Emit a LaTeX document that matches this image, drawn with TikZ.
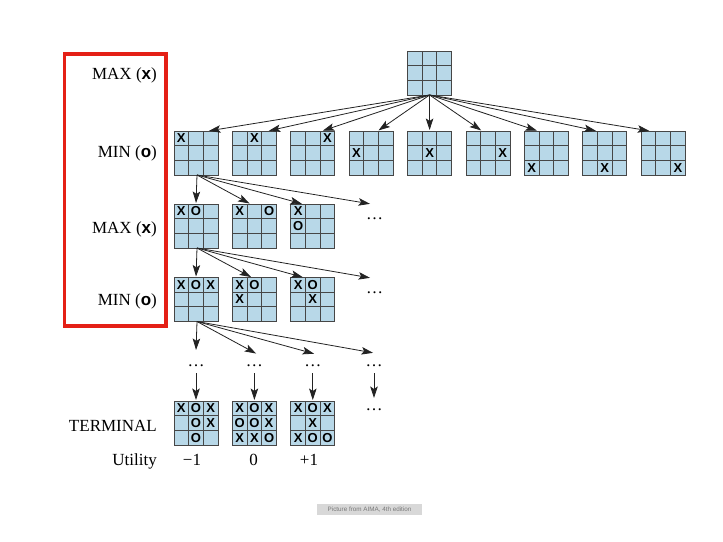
\documentclass[tikz,border=0pt]{standalone}
\usepackage{fontspec}
\setmainfont{Liberation Serif}
\setsansfont{Liberation Sans}
\usetikzlibrary{arrows.meta,calc}
\definecolor{cellblue}{RGB}{184,216,232}
\definecolor{gridgray}{RGB}{70,70,70}
\definecolor{boxred}{RGB}{228,32,22}
\definecolor{capbg}{RGB}{216,216,216}
\definecolor{captxt}{RGB}{120,120,120}
\definecolor{arrowgray}{RGB}{35,35,35}
\tikzset{
  tttbox/.style={rectangle, draw=gridgray, fill=cellblue, line width=1pt,
    minimum width=44pt, minimum height=44pt, inner sep=0pt, outer sep=0pt},
  tttgrid/.style={draw=gridgray, line width=1pt},
  tttmark/.style={font=\sffamily\bfseries\fontsize{13}{13}\selectfont, inner sep=0pt},
  lvl/.style={font=\fontsize{17}{20}\selectfont, inner sep=0pt, anchor=base east},
  utl/.style={font=\fontsize{17}{20}\selectfont, inner sep=0pt, anchor=base},
  dotsn/.style={font=\fontsize{17}{20}\selectfont, inner sep=0pt, anchor=base},
  arr/.style={draw=arrowgray, line width=0.8pt,
    -{Stealth[length=11.5pt,width=7.5pt,inset=2.5pt]}, shorten >=1pt},
  redbox/.style={draw=boxred, line width=3.8pt},
  capbox/.style={fill=capbg, text=captxt, font=\sffamily\fontsize{6.3}{6.3}\selectfont,
    minimum width=105pt, minimum height=11pt, inner sep=0pt}
}
\newcommand{\tttboard}[2]{%
  \node[tttbox] (#1) at #2 {};
  \foreach \kk in {1,2}{
    \draw[tttgrid] ($(#1.north west)!\kk/3!(#1.north east)$) -- ($(#1.south west)!\kk/3!(#1.south east)$);
    \draw[tttgrid] ($(#1.north west)!\kk/3!(#1.south west)$) -- ($(#1.north east)!\kk/3!(#1.south east)$);
  }
}
\newcommand{\tttmarks}[2]{%
  \foreach \cc/\rr/\mm in {#2}{
    \node[tttmark] at ($(#1.north west)+({(\cc-0.5)*44/3},{(\rr-0.5)*44/3})$) {\mm};
  }
}
\begin{document}
\begin{tikzpicture}[x=1pt,y=-1pt]
\useasboundingbox (0,0) rectangle (723,541);
\fill[white] (0,0) rectangle (723,541);

% red frame
\draw[redbox] (64.5,54) rectangle (166,326);

% level labels
\node[lvl] (lmax1) at (157,79) {MAX (\textsf{\textbf{x}})};
\node[lvl] (lmin1) at (157,157) {MIN (\textsf{\textbf{o}})};
\node[lvl] (lmax2) at (157,233) {MAX (\textsf{\textbf{x}})};
\node[lvl] (lmin2) at (157,305) {MIN (\textsf{\textbf{o}})};
\node[lvl] (lterm) at (157,431) {TERMINAL};
\node[lvl] (lutil) at (157,465) {Utility};

% top board
\tttboard{top}{(429.6,73)}

% MIN row
\tttboard{m1}{(196,153)}   \tttmarks{m1}{1/1/X}
\tttboard{m2}{(254.4,153)} \tttmarks{m2}{2/1/X}
\tttboard{m3}{(312.8,153)} \tttmarks{m3}{3/1/X}
\tttboard{m4}{(371.2,153)} \tttmarks{m4}{1/2/X}
\tttboard{m5}{(429.6,153)} \tttmarks{m5}{2/2/X}
\tttboard{m6}{(488,153)}   \tttmarks{m6}{3/2/X}
\tttboard{m7}{(546.4,153)} \tttmarks{m7}{1/3/X}
\tttboard{m8}{(604.8,153)} \tttmarks{m8}{2/3/X}
\tttboard{m9}{(663.2,153)} \tttmarks{m9}{3/3/X}

% MAX row 2
\tttboard{a1}{(196,226)}   \tttmarks{a1}{1/1/X,2/1/O}
\tttboard{a2}{(254.4,226)} \tttmarks{a2}{1/1/X,3/1/O}
\tttboard{a3}{(312.8,226)} \tttmarks{a3}{1/1/X,1/2/O}
\node[dotsn] (ad) at (374.5,219) {\dots};
\coordinate (adin) at (371,204);

% MIN row 2
\tttboard{b1}{(196,299.5)}   \tttmarks{b1}{1/1/X,2/1/O,3/1/X}
\tttboard{b2}{(254.4,299.5)} \tttmarks{b2}{1/1/X,2/1/O,1/2/X}
\tttboard{b3}{(312.8,299.5)} \tttmarks{b3}{1/1/X,2/1/O,2/2/X}
\node[dotsn] (bd) at (374.5,293.5) {\dots};
\coordinate (bdin) at (371,278);

% intermediate dots
\node[dotsn] (e1) at (196,366.5) {\dots};
\node[dotsn] (e2) at (254.4,366.5) {\dots};
\node[dotsn] (e3) at (312.8,366.5) {\dots};
\node[dotsn] (e4) at (374,366.5) {\dots};
\coordinate (e1in) at (196,351);
\coordinate (e2in) at (257,354);
\coordinate (e3in) at (315,354);
\coordinate (e4in) at (374,353);
\coordinate (e1out) at (196,373);
\coordinate (e2out) at (254.4,373);
\coordinate (e3out) at (312.8,373);
\coordinate (e4out) at (374,373);
\coordinate (e4end) at (374,399);

% terminal row
\tttboard{t1}{(196,423)}   \tttmarks{t1}{1/1/X,2/1/O,3/1/X,2/2/O,3/2/X,2/3/O}
\tttboard{t2}{(254.4,423)} \tttmarks{t2}{1/1/X,2/1/O,3/1/X,1/2/O,2/2/O,3/2/X,1/3/X,2/3/X,3/3/O}
\tttboard{t3}{(312.8,423)} \tttmarks{t3}{1/1/X,2/1/O,3/1/X,2/2/X,1/3/X,2/3/O,3/3/O}
\node[dotsn] (td) at (374,410.5) {\dots};

% utilities
\node[utl] (u1) at (192,465) {−1};
\node[utl] (u2) at (253.5,465) {0};
\node[utl] (u3) at (309,465) {+1};

% arrows: top -> MIN row
\draw[arr] (top.south) -- ([xshift=12pt]m1.north);
\draw[arr] (top.south) -- ([xshift=13.5pt]m2.north);
\draw[arr] (top.south) -- ([xshift=9pt]m3.north);
\draw[arr] (top.south) -- ([xshift=6.5pt]m4.north);
\draw[arr] (top.south) -- (m5.north);
\draw[arr] (top.south) -- ([xshift=-6pt]m6.north);
\draw[arr] (top.south) -- ([xshift=-8.5pt]m7.north);
\draw[arr] (top.south) -- ([xshift=-8pt]m8.north);
\draw[arr] (top.south) -- ([xshift=-13pt]m9.north);

% m1 -> row 2
\draw[arr] ([xshift=1pt]m1.south) -- (a1.north);
\draw[arr] ([xshift=1pt]m1.south) -- ([xshift=-4pt]a2.north);
\draw[arr] ([xshift=1pt]m1.south) -- ([xshift=-10pt]a3.north);
\draw[arr] ([xshift=1pt]m1.south) -- (adin);

% a1 -> row 3
\draw[arr] ([xshift=1pt]a1.south) -- (b1.north);
\draw[arr] ([xshift=1pt]a1.south) -- ([xshift=-2.5pt]b2.north);
\draw[arr] ([xshift=1pt]a1.south) -- ([xshift=-9pt]b3.north);
\draw[arr] ([xshift=1pt]a1.south) -- (bdin);

% b1 -> dots
\draw[arr] ([xshift=1pt]b1.south) -- (e1in);
\draw[arr] ([xshift=1pt]b1.south) -- (e2in);
\draw[arr] ([xshift=1pt]b1.south) -- (e3in);
\draw[arr] ([xshift=1pt]b1.south) -- (e4in);

% dots -> terminal
\draw[arr] (e1out) -- (t1.north);
\draw[arr] (e2out) -- (t2.north);
\draw[arr] (e3out) -- (t3.north);
\draw[arr] (e4out) -- (e4end);

% caption
\node[capbox] (cap) at (369.5,509.5) {Picture from AIMA, 4th edition};
\end{tikzpicture}
\end{document}
